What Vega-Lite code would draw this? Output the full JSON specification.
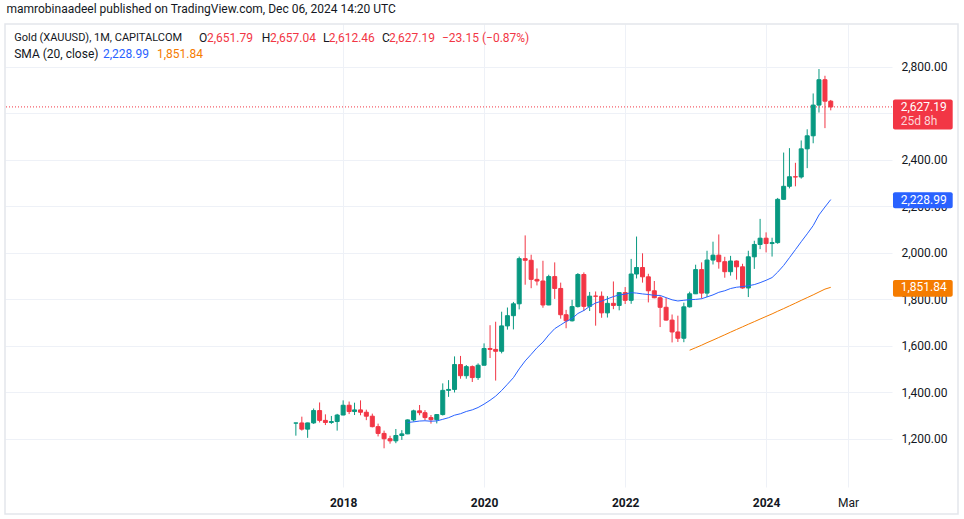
{
  "$schema": "https://vega.github.io/schema/vega-lite/v6.json",
  "width": 887,
  "height": 463,
  "autosize": {"type": "none"},
  "padding": {"left": 5, "top": 24, "right": 72, "bottom": 32},
  "background": "#ffffff",
  "config": {"view": {"stroke": null}, "font": "Roboto"},
  "title": {"text": "mamrobinaadeel published on TradingView.com, Dec 06, 2024 14:20 UTC", "anchor": "start", "frame": "group", "offset": 7, "dx": 1.5, "fontSize": 12, "fontWeight": "normal", "font": "Roboto", "color": "#131722"},
  "datasets": {
    "one": [{}],
    "candles": [
      {"date": "2017-05-01", "open": 1268.3, "high": 1269.5, "low": 1214.3, "close": 1268.9},
      {"date": "2017-06-01", "open": 1268.9, "high": 1296, "low": 1236, "close": 1242.3},
      {"date": "2017-07-01", "open": 1242.3, "high": 1270, "low": 1205, "close": 1269.1},
      {"date": "2017-08-01", "open": 1269.1, "high": 1331, "low": 1265, "close": 1322.2},
      {"date": "2017-09-01", "open": 1322.2, "high": 1357, "low": 1271, "close": 1280},
      {"date": "2017-10-01", "open": 1280, "high": 1306, "low": 1260, "close": 1271},
      {"date": "2017-11-01", "open": 1271, "high": 1299, "low": 1265, "close": 1275},
      {"date": "2017-12-01", "open": 1275, "high": 1308, "low": 1236, "close": 1303},
      {"date": "2018-01-01", "open": 1303, "high": 1366, "low": 1302, "close": 1345},
      {"date": "2018-02-01", "open": 1345, "high": 1361, "low": 1307, "close": 1318},
      {"date": "2018-03-01", "open": 1318, "high": 1356, "low": 1303, "close": 1325},
      {"date": "2018-04-01", "open": 1325, "high": 1366, "low": 1302, "close": 1315},
      {"date": "2018-05-01", "open": 1315, "high": 1326, "low": 1281, "close": 1298},
      {"date": "2018-06-01", "open": 1298, "high": 1309, "low": 1250, "close": 1253},
      {"date": "2018-07-01", "open": 1253, "high": 1266, "low": 1211, "close": 1224},
      {"date": "2018-08-01", "open": 1224, "high": 1236, "low": 1160, "close": 1201},
      {"date": "2018-09-01", "open": 1201, "high": 1214, "low": 1180, "close": 1192},
      {"date": "2018-10-01", "open": 1192, "high": 1243, "low": 1182, "close": 1215},
      {"date": "2018-11-01", "open": 1215, "high": 1238, "low": 1196, "close": 1222},
      {"date": "2018-12-01", "open": 1222, "high": 1284, "low": 1221, "close": 1282},
      {"date": "2019-01-01", "open": 1282, "high": 1326, "low": 1275, "close": 1321},
      {"date": "2019-02-01", "open": 1321, "high": 1346, "low": 1302, "close": 1313},
      {"date": "2019-03-01", "open": 1313, "high": 1324, "low": 1281, "close": 1292},
      {"date": "2019-04-01", "open": 1292, "high": 1303, "low": 1266, "close": 1283},
      {"date": "2019-05-01", "open": 1283, "high": 1306, "low": 1267, "close": 1305},
      {"date": "2019-06-01", "open": 1305, "high": 1439, "low": 1301, "close": 1409},
      {"date": "2019-07-01", "open": 1409, "high": 1453, "low": 1381, "close": 1413},
      {"date": "2019-08-01", "open": 1413, "high": 1555, "low": 1400, "close": 1520},
      {"date": "2019-09-01", "open": 1520, "high": 1557, "low": 1459, "close": 1472},
      {"date": "2019-10-01", "open": 1472, "high": 1518, "low": 1459, "close": 1511},
      {"date": "2019-11-01", "open": 1511, "high": 1516, "low": 1445, "close": 1464},
      {"date": "2019-12-01", "open": 1464, "high": 1525, "low": 1454, "close": 1517},
      {"date": "2020-01-01", "open": 1517, "high": 1611, "low": 1517, "close": 1589},
      {"date": "2020-02-01", "open": 1589, "high": 1689, "low": 1548, "close": 1585},
      {"date": "2020-03-01", "open": 1585, "high": 1704, "low": 1451, "close": 1577},
      {"date": "2020-04-01", "open": 1577, "high": 1747, "low": 1568, "close": 1686},
      {"date": "2020-05-01", "open": 1686, "high": 1765, "low": 1670, "close": 1730},
      {"date": "2020-06-01", "open": 1730, "high": 1789, "low": 1671, "close": 1781},
      {"date": "2020-07-01", "open": 1781, "high": 1984, "low": 1757, "close": 1975},
      {"date": "2020-08-01", "open": 1975, "high": 2075, "low": 1863, "close": 1968},
      {"date": "2020-09-01", "open": 1968, "high": 1992, "low": 1848, "close": 1886},
      {"date": "2020-10-01", "open": 1886, "high": 1933, "low": 1860, "close": 1879},
      {"date": "2020-11-01", "open": 1879, "high": 1966, "low": 1764, "close": 1776},
      {"date": "2020-12-01", "open": 1776, "high": 1906, "low": 1775, "close": 1898},
      {"date": "2021-01-01", "open": 1898, "high": 1959, "low": 1802, "close": 1847},
      {"date": "2021-02-01", "open": 1847, "high": 1872, "low": 1717, "close": 1734},
      {"date": "2021-03-01", "open": 1734, "high": 1755, "low": 1676, "close": 1708},
      {"date": "2021-04-01", "open": 1708, "high": 1798, "low": 1705, "close": 1769},
      {"date": "2021-05-01", "open": 1769, "high": 1913, "low": 1765, "close": 1907},
      {"date": "2021-06-01", "open": 1907, "high": 1916, "low": 1750, "close": 1770},
      {"date": "2021-07-01", "open": 1770, "high": 1832, "low": 1750, "close": 1814},
      {"date": "2021-08-01", "open": 1814.1, "high": 1834, "low": 1687, "close": 1813.6},
      {"date": "2021-09-01", "open": 1813.6, "high": 1834, "low": 1721, "close": 1742},
      {"date": "2021-10-01", "open": 1742, "high": 1814, "low": 1722, "close": 1783},
      {"date": "2021-11-01", "open": 1783, "high": 1877, "low": 1758, "close": 1774},
      {"date": "2021-12-01", "open": 1774, "high": 1830, "low": 1753, "close": 1829},
      {"date": "2022-01-01", "open": 1829, "high": 1853, "low": 1780, "close": 1796},
      {"date": "2022-02-01", "open": 1796, "high": 1974, "low": 1781, "close": 1909},
      {"date": "2022-03-01", "open": 1909, "high": 2070, "low": 1890, "close": 1937},
      {"date": "2022-04-01", "open": 1937, "high": 1998, "low": 1872, "close": 1897},
      {"date": "2022-05-01", "open": 1897, "high": 1910, "low": 1787, "close": 1837},
      {"date": "2022-06-01", "open": 1837, "high": 1879, "low": 1805, "close": 1807},
      {"date": "2022-07-01", "open": 1807, "high": 1814, "low": 1681, "close": 1766},
      {"date": "2022-08-01", "open": 1766, "high": 1807, "low": 1709, "close": 1711},
      {"date": "2022-09-01", "open": 1711, "high": 1735, "low": 1615, "close": 1660},
      {"date": "2022-10-01", "open": 1660, "high": 1730, "low": 1617, "close": 1633},
      {"date": "2022-11-01", "open": 1633, "high": 1786, "low": 1616, "close": 1768},
      {"date": "2022-12-01", "open": 1768, "high": 1833, "low": 1765, "close": 1824},
      {"date": "2023-01-01", "open": 1824, "high": 1949, "low": 1823, "close": 1928},
      {"date": "2023-02-01", "open": 1928, "high": 1959, "low": 1804, "close": 1827},
      {"date": "2023-03-01", "open": 1827, "high": 2009, "low": 1810, "close": 1969},
      {"date": "2023-04-01", "open": 1969, "high": 2048, "low": 1950, "close": 1990},
      {"date": "2023-05-01", "open": 1990, "high": 2079, "low": 1932, "close": 1962},
      {"date": "2023-06-01", "open": 1962, "high": 1983, "low": 1893, "close": 1919},
      {"date": "2023-07-01", "open": 1919, "high": 1987, "low": 1902, "close": 1965},
      {"date": "2023-08-01", "open": 1965, "high": 1967, "low": 1885, "close": 1940},
      {"date": "2023-09-01", "open": 1940, "high": 1953, "low": 1846, "close": 1849},
      {"date": "2023-10-01", "open": 1849, "high": 2009, "low": 1810, "close": 1983},
      {"date": "2023-11-01", "open": 1983, "high": 2052, "low": 1931, "close": 2036},
      {"date": "2023-12-01", "open": 2036, "high": 2146, "low": 2016, "close": 2063},
      {"date": "2024-01-01", "open": 2063, "high": 2088, "low": 2002, "close": 2040},
      {"date": "2024-02-01", "open": 2040, "high": 2065, "low": 1984, "close": 2044},
      {"date": "2024-03-01", "open": 2044, "high": 2236, "low": 2039, "close": 2230},
      {"date": "2024-04-01", "open": 2230, "high": 2431, "low": 2228, "close": 2286},
      {"date": "2024-05-01", "open": 2286, "high": 2450, "low": 2277, "close": 2327},
      {"date": "2024-06-01", "open": 2327, "high": 2387, "low": 2286, "close": 2326},
      {"date": "2024-07-01", "open": 2326, "high": 2483, "low": 2319, "close": 2447},
      {"date": "2024-08-01", "open": 2447, "high": 2531, "low": 2364, "close": 2503},
      {"date": "2024-09-01", "open": 2503, "high": 2685, "low": 2471, "close": 2635},
      {"date": "2024-10-01", "open": 2635, "high": 2790, "low": 2603, "close": 2744},
      {"date": "2024-11-01", "open": 2744, "high": 2761, "low": 2536, "close": 2651.79},
      {"date": "2024-12-01", "open": 2651.79, "high": 2657.04, "low": 2612.46, "close": 2627.19}
    ],
    "sma": [
      {"date": "2018-12-01", "value": 1271.0}, {"date": "2019-01-01", "value": 1273.65}, {"date": "2019-02-01", "value": 1277.2},
      {"date": "2019-03-01", "value": 1278.35}, {"date": "2019-04-01", "value": 1276.4}, {"date": "2019-05-01", "value": 1277.65},
      {"date": "2019-06-01", "value": 1284.55}, {"date": "2019-07-01", "value": 1291.45}, {"date": "2019-08-01", "value": 1302.3},
      {"date": "2019-09-01", "value": 1308.65}, {"date": "2019-10-01", "value": 1318.3}, {"date": "2019-11-01", "value": 1325.25},
      {"date": "2019-12-01", "value": 1335.35}, {"date": "2020-01-01", "value": 1349.9}, {"date": "2020-02-01", "value": 1366.5},
      {"date": "2020-03-01", "value": 1384.15}, {"date": "2020-04-01", "value": 1408.4}, {"date": "2020-05-01", "value": 1435.3},
      {"date": "2020-06-01", "value": 1463.6}, {"date": "2020-07-01", "value": 1501.25}, {"date": "2020-08-01", "value": 1535.55},
      {"date": "2020-09-01", "value": 1563.8}, {"date": "2020-10-01", "value": 1592.1}, {"date": "2020-11-01", "value": 1616.3},
      {"date": "2020-12-01", "value": 1647.05}, {"date": "2021-01-01", "value": 1674.15}, {"date": "2021-02-01", "value": 1690.4},
      {"date": "2021-03-01", "value": 1705.15}, {"date": "2021-04-01", "value": 1717.6}, {"date": "2021-05-01", "value": 1739.35},
      {"date": "2021-06-01", "value": 1752.3}, {"date": "2021-07-01", "value": 1769.8}, {"date": "2021-08-01", "value": 1784.65},
      {"date": "2021-09-01", "value": 1792.3}, {"date": "2021-10-01", "value": 1802.2}, {"date": "2021-11-01", "value": 1812.05},
      {"date": "2021-12-01", "value": 1819.2}, {"date": "2022-01-01", "value": 1822.5}, {"date": "2022-02-01", "value": 1828.9},
      {"date": "2022-03-01", "value": 1827.0}, {"date": "2022-04-01", "value": 1823.45}, {"date": "2022-05-01", "value": 1821.0},
      {"date": "2022-06-01", "value": 1817.4}, {"date": "2022-07-01", "value": 1816.9}, {"date": "2022-08-01", "value": 1807.55},
      {"date": "2022-09-01", "value": 1798.2}, {"date": "2022-10-01", "value": 1793.15}, {"date": "2022-11-01", "value": 1796.15},
      {"date": "2022-12-01", "value": 1798.9}, {"date": "2023-01-01", "value": 1799.95}, {"date": "2023-02-01", "value": 1802.8},
      {"date": "2023-03-01", "value": 1810.55}, {"date": "2023-04-01", "value": 1819.35}, {"date": "2023-05-01", "value": 1830.35},
      {"date": "2023-06-01", "value": 1837.15}, {"date": "2023-07-01", "value": 1846.7}, {"date": "2023-08-01", "value": 1852.25},
      {"date": "2023-09-01", "value": 1854.9}, {"date": "2023-10-01", "value": 1858.6}, {"date": "2023-11-01", "value": 1863.55},
      {"date": "2023-12-01", "value": 1871.85}, {"date": "2024-01-01", "value": 1882.0}, {"date": "2024-02-01", "value": 1893.85},
      {"date": "2024-03-01", "value": 1917.05}, {"date": "2024-04-01", "value": 1945.8}, {"date": "2024-05-01", "value": 1979.15},
      {"date": "2024-06-01", "value": 2013.8}, {"date": "2024-07-01", "value": 2047.75}, {"date": "2024-08-01", "value": 2081.7},
      {"date": "2024-09-01", "value": 2117.05}, {"date": "2024-10-01", "value": 2162.9}, {"date": "2024-11-01", "value": 2197.0},
      {"date": "2024-12-01", "value": 2228.99}
    ],
    "smooth": [
      {"date": "2022-12-01", "value": 1581.5}, {"date": "2023-01-01", "value": 1592.3}, {"date": "2023-02-01", "value": 1603.1},
      {"date": "2023-03-01", "value": 1614.0}, {"date": "2023-04-01", "value": 1625.0}, {"date": "2023-05-01", "value": 1636.3},
      {"date": "2023-06-01", "value": 1647.8}, {"date": "2023-07-01", "value": 1659.2}, {"date": "2023-08-01", "value": 1670.7},
      {"date": "2023-09-01", "value": 1682.0}, {"date": "2023-10-01", "value": 1693.2}, {"date": "2023-11-01", "value": 1704.3},
      {"date": "2023-12-01", "value": 1715.5}, {"date": "2024-01-01", "value": 1726.6}, {"date": "2024-02-01", "value": 1737.7},
      {"date": "2024-03-01", "value": 1749.0}, {"date": "2024-04-01", "value": 1760.4}, {"date": "2024-05-01", "value": 1772.1},
      {"date": "2024-06-01", "value": 1783.9}, {"date": "2024-07-01", "value": 1795.8}, {"date": "2024-08-01", "value": 1807.6},
      {"date": "2024-09-01", "value": 1819.5}, {"date": "2024-10-01", "value": 1831.7}, {"date": "2024-11-01", "value": 1844.1},
      {"date": "2024-12-01", "value": 1851.84}
    ]
  },
  "layer": [
    {
      "data": {"name": "candles"},
      "mark": {"type": "rule", "strokeWidth": 1},
      "encoding": {
        "x": {
          "field": "date", "type": "temporal", "title": null,
          "scale": {"type": "utc", "nice": false, "padding": 0, "domain": [{"year": 2013, "month": 3, "date": 16, "hours": 5, "utc": true}, {"year": 2025, "month": 10, "date": 14, "hours": 7, "utc": true}]},
          "axis": {
            "values": [{"year": 2018, "month": 1, "date": 1, "utc": true}, {"year": 2020, "month": 1, "date": 1, "utc": true}, {"year": 2022, "month": 1, "date": 1, "utc": true}, {"year": 2024, "month": 1, "date": 1, "utc": true}, {"year": 2025, "month": 3, "date": 1, "utc": true}],
            "labelExpr": "utcmonth(datum.value) == 2 ? 'Mar' : utcFormat(datum.value, '%Y')",
            "labelFontWeight": {"condition": {"test": "utcmonth(datum.value) == 2", "value": "normal"}, "value": "bold"},
            "labelFont": "Roboto", "labelFontSize": 12, "labelColor": "#131722", "labelPadding": 10,
            "ticks": false, "domain": false, "grid": true, "gridColor": "#eef1f7", "gridWidth": 1,
            "labelFlush": false, "labelOverlap": false
          }
        },
        "y": {
          "field": "low", "type": "quantitative", "title": null,
          "scale": {"domain": [993.7, 2983.5], "nice": false, "zero": false, "padding": 0},
          "axis": {
            "orient": "right", "values": [1200, 1400, 1600, 1800, 2000, 2200, 2400, 2600, 2800],
            "labelExpr": "datum.value == 2600 ? '' : format(datum.value, ',.2f')",
            "labelFont": "Roboto", "labelFontSize": 12, "labelColor": "#131722", "labelPadding": 9,
            "ticks": false, "domain": false, "grid": true, "gridColor": "#eef1f7", "gridWidth": 1,
            "labelFlush": false, "labelOverlap": false
          }
        },
        "y2": {"field": "high"},
        "color": {"condition": {"test": "datum.close >= datum.open", "value": "#089981"}, "value": "#f23645"}
      }
    },
    {
      "data": {"name": "one"},
      "mark": {"type": "rect", "fill": null, "stroke": "#e3e6ec", "strokeWidth": 1.5},
      "encoding": {
        "x": {"datum": {"year": 2013, "month": 3, "date": 16, "hours": 5, "utc": true}, "type": "temporal"},
        "x2": {"datum": {"year": 2026, "month": 9, "date": 21, "hours": 5, "utc": true}},
        "y": {"datum": 2983.5, "type": "quantitative"},
        "y2": {"datum": 877.7}
      }
    },
    {
      "data": {"name": "one"},
      "mark": {"type": "rule", "stroke": "#f23645", "strokeWidth": 1, "strokeDash": [1, 2]},
      "encoding": {"y": {"datum": 2627.19, "type": "quantitative"}}
    },
    {
      "data": {"name": "candles"},
      "mark": {"type": "bar", "size": 4, "strokeWidth": 1},
      "encoding": {
        "x": {"field": "date", "type": "temporal", "title": null},
        "y": {"field": "open", "type": "quantitative", "title": null},
        "y2": {"field": "close"},
        "fill": {"condition": {"test": "datum.close >= datum.open", "value": "#089981"}, "value": "#f23645"},
        "stroke": {"condition": {"test": "datum.close >= datum.open", "value": "#089981"}, "value": "#f23645"}
      }
    },
    {
      "data": {"name": "sma"},
      "mark": {"type": "line", "strokeWidth": 1, "color": "#2962ff"},
      "encoding": {
        "x": {"field": "date", "type": "temporal", "title": null},
        "y": {"field": "value", "type": "quantitative", "title": null}
      }
    },
    {
      "data": {"name": "smooth"},
      "mark": {"type": "line", "strokeWidth": 1, "color": "#f57c00"},
      "encoding": {
        "x": {"field": "date", "type": "temporal", "title": null},
        "y": {"field": "value", "type": "quantitative", "title": null}
      }
    },
    {
      "data": {"name": "one"},
      "mark": {"type": "text", "align": "left", "baseline": "middle", "fontSize": 11, "font": "Roboto", "color": "#131722"},
      "encoding": {
        "x": {"datum": {"year": 2013, "month": 5, "date": 3, "utc": true}, "type": "temporal"},
        "y": {"datum": 2923.3, "type": "quantitative"},
        "text": {"value": "Gold (XAUUSD), 1M, CAPITALCOM"}
      }
    },
    {
      "data": {"name": "one"},
      "mark": {"type": "text", "align": "left", "baseline": "middle", "fontSize": 12, "font": "Roboto", "color": "#131722"},
      "encoding": {
        "x": {"datum": {"year": 2015, "month": 12, "date": 16, "utc": true}, "type": "temporal"},
        "y": {"datum": 2923.3, "type": "quantitative"},
        "text": {"value": "O"}
      }
    },
    {
      "data": {"name": "one"},
      "mark": {"type": "text", "align": "left", "baseline": "middle", "fontSize": 12, "font": "Roboto", "color": "#f23645"},
      "encoding": {
        "x": {"datum": {"year": 2016, "month": 1, "date": 26, "hours": 10, "utc": true}, "type": "temporal"},
        "y": {"datum": 2923.3, "type": "quantitative"},
        "text": {"value": "2,651.79"}
      }
    },
    {
      "data": {"name": "one"},
      "mark": {"type": "text", "align": "left", "baseline": "middle", "fontSize": 12, "font": "Roboto", "color": "#131722"},
      "encoding": {
        "x": {"datum": {"year": 2016, "month": 11, "date": 5, "hours": 19, "utc": true}, "type": "temporal"},
        "y": {"datum": 2923.3, "type": "quantitative"},
        "text": {"value": "H"}
      }
    },
    {
      "data": {"name": "one"},
      "mark": {"type": "text", "align": "left", "baseline": "middle", "fontSize": 12, "font": "Roboto", "color": "#f23645"},
      "encoding": {
        "x": {"datum": {"year": 2016, "month": 12, "date": 18, "utc": true}, "type": "temporal"},
        "y": {"datum": 2923.3, "type": "quantitative"},
        "text": {"value": "2,657.04"}
      }
    },
    {
      "data": {"name": "one"},
      "mark": {"type": "text", "align": "left", "baseline": "middle", "fontSize": 12, "font": "Roboto", "color": "#131722"},
      "encoding": {
        "x": {"datum": {"year": 2017, "month": 9, "date": 18, "utc": true}, "type": "temporal"},
        "y": {"datum": 2923.3, "type": "quantitative"},
        "text": {"value": "L"}
      }
    },
    {
      "data": {"name": "one"},
      "mark": {"type": "text", "align": "left", "baseline": "middle", "fontSize": 12, "font": "Roboto", "color": "#f23645"},
      "encoding": {
        "x": {"datum": {"year": 2017, "month": 10, "date": 19, "utc": true}, "type": "temporal"},
        "y": {"datum": 2923.3, "type": "quantitative"},
        "text": {"value": "2,612.46"}
      }
    },
    {
      "data": {"name": "one"},
      "mark": {"type": "text", "align": "left", "baseline": "middle", "fontSize": 12, "font": "Roboto", "color": "#131722"},
      "encoding": {
        "x": {"datum": {"year": 2018, "month": 7, "date": 21, "utc": true}, "type": "temporal"},
        "y": {"datum": 2923.3, "type": "quantitative"},
        "text": {"value": "C"}
      }
    },
    {
      "data": {"name": "one"},
      "mark": {"type": "text", "align": "left", "baseline": "middle", "fontSize": 12, "font": "Roboto", "color": "#f23645"},
      "encoding": {
        "x": {"datum": {"year": 2018, "month": 8, "date": 26, "utc": true}, "type": "temporal"},
        "y": {"datum": 2923.3, "type": "quantitative"},
        "text": {"value": "2,627.19"}
      }
    },
    {
      "data": {"name": "one"},
      "mark": {"type": "text", "align": "left", "baseline": "middle", "fontSize": 12, "font": "Roboto", "color": "#f23645"},
      "encoding": {
        "x": {"datum": {"year": 2019, "month": 5, "date": 27, "hours": 22, "utc": true}, "type": "temporal"},
        "y": {"datum": 2923.3, "type": "quantitative"},
        "text": {"value": "−23.15 (−0.87%)"}
      }
    },
    {
      "data": {"name": "one"},
      "mark": {"type": "text", "align": "left", "baseline": "middle", "fontSize": 12, "font": "Roboto", "color": "#131722"},
      "encoding": {
        "x": {"datum": {"year": 2013, "month": 5, "date": 3, "utc": true}, "type": "temporal"},
        "y": {"datum": 2854.6, "type": "quantitative"},
        "text": {"value": "SMA (20, close)"}
      }
    },
    {
      "data": {"name": "one"},
      "mark": {"type": "text", "align": "left", "baseline": "middle", "fontSize": 12, "font": "Roboto", "color": "#2962ff"},
      "encoding": {
        "x": {"datum": {"year": 2014, "month": 8, "date": 5, "hours": 14, "utc": true}, "type": "temporal"},
        "y": {"datum": 2854.6, "type": "quantitative"},
        "text": {"value": "2,228.99"}
      }
    },
    {
      "data": {"name": "one"},
      "mark": {"type": "text", "align": "left", "baseline": "middle", "fontSize": 12, "font": "Roboto", "color": "#f57c00"},
      "encoding": {
        "x": {"datum": {"year": 2015, "month": 5, "date": 12, "hours": 7, "utc": true}, "type": "temporal"},
        "y": {"datum": 2854.6, "type": "quantitative"},
        "text": {"value": "1,851.84"}
      }
    },
    {
      "data": {"name": "one"},
      "mark": {"type": "rect", "fill": "#f23645", "cornerRadius": 2},
      "encoding": {
        "x": {"datum": {"year": 2025, "month": 10, "date": 19, "hours": 10, "utc": true}, "type": "temporal"},
        "x2": {"datum": {"year": 2026, "month": 8, "date": 24, "hours": 17, "utc": true}},
        "y": {"datum": 2658.6, "type": "quantitative"},
        "y2": {"datum": 2529.7}
      }
    },
    {
      "data": {"name": "one"},
      "mark": {"type": "rect", "fill": "#2962ff", "cornerRadius": 2},
      "encoding": {
        "x": {"datum": {"year": 2025, "month": 10, "date": 19, "hours": 10, "utc": true}, "type": "temporal"},
        "x2": {"datum": {"year": 2026, "month": 8, "date": 24, "hours": 17, "utc": true}},
        "y": {"datum": 2260.2, "type": "quantitative"},
        "y2": {"datum": 2191.5}
      }
    },
    {
      "data": {"name": "one"},
      "mark": {"type": "rect", "fill": "#f57c00", "cornerRadius": 2},
      "encoding": {
        "x": {"datum": {"year": 2025, "month": 10, "date": 19, "hours": 10, "utc": true}, "type": "temporal"},
        "x2": {"datum": {"year": 2026, "month": 8, "date": 24, "hours": 17, "utc": true}},
        "y": {"datum": 1883.3, "type": "quantitative"},
        "y2": {"datum": 1811.6}
      }
    },
    {
      "data": {"name": "one"},
      "mark": {"type": "text", "align": "left", "baseline": "middle", "fontSize": 12, "font": "Roboto", "color": "#ffffff"},
      "encoding": {
        "x": {"datum": {"year": 2025, "month": 11, "date": 28, "hours": 7, "utc": true}, "type": "temporal"},
        "y": {"datum": 2627.19, "type": "quantitative"},
        "text": {"value": "2,627.19"}
      }
    },
    {
      "data": {"name": "one"},
      "mark": {"type": "text", "align": "left", "baseline": "middle", "fontSize": 12, "font": "Roboto", "color": "#fcd5d8"},
      "encoding": {
        "x": {"datum": {"year": 2025, "month": 11, "date": 28, "hours": 7, "utc": true}, "type": "temporal"},
        "y": {"datum": 2566.6, "type": "quantitative"},
        "text": {"value": "25d 8h"}
      }
    },
    {
      "data": {"name": "one"},
      "mark": {"type": "text", "align": "left", "baseline": "middle", "fontSize": 12, "font": "Roboto", "color": "#ffffff"},
      "encoding": {
        "x": {"datum": {"year": 2025, "month": 11, "date": 28, "hours": 7, "utc": true}, "type": "temporal"},
        "y": {"datum": 2228.99, "type": "quantitative"},
        "text": {"value": "2,228.99"}
      }
    },
    {
      "data": {"name": "one"},
      "mark": {"type": "text", "align": "left", "baseline": "middle", "fontSize": 12, "font": "Roboto", "color": "#ffffff"},
      "encoding": {
        "x": {"datum": {"year": 2025, "month": 11, "date": 28, "hours": 7, "utc": true}, "type": "temporal"},
        "y": {"datum": 1851.84, "type": "quantitative"},
        "text": {"value": "1,851.84"}
      }
    }
  ]
}
